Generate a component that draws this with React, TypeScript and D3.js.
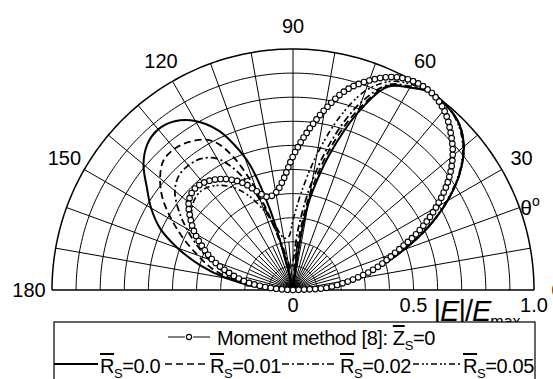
import React, { useRef, useEffect } from 'react';
import * as d3 from 'd3';

// polar pattern |E|/Emax vs theta (deg)
const momentMethod: [number, number][] = [
  [0, 0], [3, 0.12], [5, 0.16], [10, 0.255], [15, 0.36], [20, 0.45], [25, 0.575], [30, 0.685],
  [35, 0.785], [40, 0.865], [45, 0.925], [50, 0.975], [55, 1.0], [60, 1.0], [65, 0.975],
  [70, 0.925], [75, 0.86], [80, 0.76], [85, 0.655], [90, 0.555], [95, 0.46], [100, 0.41],
  [105, 0.4], [110, 0.435], [115, 0.49], [120, 0.53], [125, 0.56], [130, 0.58], [135, 0.585],
  [140, 0.565], [145, 0.52], [150, 0.47], [155, 0.41], [160, 0.35], [165, 0.275], [170, 0.2],
  [175, 0.09], [180, 0],
];

const rs000: [number, number][] = [
  [0, 0], [5, 0.14], [10, 0.26], [15, 0.37], [20, 0.49], [25, 0.62], [30, 0.74], [35, 0.845],
  [40, 0.925], [45, 0.975], [50, 0.995], [55, 1.0], [60, 0.97], [65, 0.93], [70, 0.78],
  [75, 0.58], [78, 0.45], [80, 0.36], [82, 0.2], [84, 0],
  [103, 0], [104, 0.12], [105, 0.25], [106, 0.35], [109, 0.55], [112, 0.65], [115, 0.73],
  [120, 0.81], [125, 0.855], [130, 0.87], [135, 0.855], [140, 0.81], [145, 0.74], [150, 0.68],
  [155, 0.61], [160, 0.51], [165, 0.4], [170, 0.28], [175, 0.14], [180, 0],
];

const rs001: [number, number][] = [
  [0, 0], [5, 0.14], [10, 0.26], [15, 0.37], [20, 0.49], [25, 0.62], [30, 0.74], [35, 0.845],
  [40, 0.925], [45, 0.975], [50, 0.995], [55, 1.0], [60, 0.972], [65, 0.935], [70, 0.8],
  [75, 0.62], [80, 0.4], [84, 0.2], [88, 0.06], [92, 0.03], [98, 0.03], [102, 0.1],
  [105, 0.2], [108, 0.34], [111, 0.48], [114, 0.6], [117, 0.68], [120, 0.72], [125, 0.75],
  [130, 0.765], [135, 0.76], [140, 0.72], [145, 0.66], [150, 0.58], [155, 0.5], [160, 0.42],
  [165, 0.35], [170, 0.25], [175, 0.13], [180, 0],
];

const rs002: [number, number][] = [
  [0, 0], [5, 0.14], [10, 0.26], [15, 0.37], [20, 0.49], [25, 0.62], [30, 0.74], [35, 0.845],
  [40, 0.925], [45, 0.975], [50, 0.995], [55, 1.0], [60, 0.975], [65, 0.94], [70, 0.83],
  [75, 0.66], [80, 0.46], [85, 0.26], [90, 0.12], [95, 0.09], [100, 0.12], [104, 0.2],
  [108, 0.32], [112, 0.46], [116, 0.56], [120, 0.63], [125, 0.665], [130, 0.675], [135, 0.67],
  [140, 0.64], [145, 0.58], [150, 0.51], [155, 0.44], [160, 0.37], [165, 0.3], [170, 0.22],
  [175, 0.11], [180, 0],
];

const rs005: [number, number][] = [
  [0, 0], [5, 0.14], [10, 0.26], [15, 0.37], [20, 0.49], [25, 0.62], [30, 0.735], [35, 0.84],
  [40, 0.92], [45, 0.97], [50, 0.995], [55, 1.0], [60, 0.985], [65, 0.955], [70, 0.88],
  [75, 0.74], [80, 0.57], [85, 0.41], [90, 0.29], [95, 0.22], [100, 0.22], [105, 0.27],
  [110, 0.35], [115, 0.43], [120, 0.49], [125, 0.53], [130, 0.555], [135, 0.56], [140, 0.545],
  [145, 0.51], [150, 0.46], [155, 0.4], [160, 0.34], [165, 0.27], [170, 0.2], [175, 0.1],
  [180, 0],
];

const angleLabels = [0, 30, 60, 90, 120, 150, 180];
const radiusLabels = [0, 0.5, 1.0];
const legendValues = ['0.0', '0.01', '0.02', '0.05'];
const legendDashes = ['none', '7,4', '7,3,2,3', '6,3,2,2,2,3'];

const FONT = "'Liberation Sans', Arial, sans-serif";

const App = () => {
  const ref = useRef<SVGSVGElement>(null);

  useEffect(() => {
    const svg = d3.select(ref.current);
    svg.selectAll('*').remove();

    const cx = 293, cy = 290, R = 241;
    const r = d3.scaleLinear().domain([0, 1]).range([0, R]);
    // theta measured from the right, counter-clockwise -> radial angle from 12 o'clock
    const a = d3.scaleLinear().domain([0, 180]).range([Math.PI / 2, -Math.PI / 2]);

    const g = svg.append('g').attr('transform', `translate(${cx},${cy})`);

    // grid circles
    d3.range(1, 11).map((i) => i / 10).forEach((v) => {
      const pts = d3.range(0, 181, 1).map((t) => [a(t), r(v)] as [number, number]);
      g.append('path')
        .attr('d', d3.lineRadial()(pts))
        .attr('fill', 'none')
        .attr('stroke', '#000')
        .attr('stroke-width', v === 1 ? 1.5 : 1);
    });

    // spokes
    d3.range(10, 180, 10).forEach((t) => {
      g.append('path')
        .attr('d', d3.lineRadial()([[a(t), 0], [a(t), r(1)]]))
        .attr('stroke', '#000').attr('stroke-width', 1);
    });
    d3.range(5, 180, 10).forEach((t) => {
      g.append('path')
        .attr('d', d3.lineRadial()([[a(t), 0], [a(t), r(0.2)]]))
        .attr('stroke', '#000').attr('stroke-width', 1);
    });
    // baseline
    g.append('path')
      .attr('d', d3.lineRadial()([[a(180), r(1)], [a(0), r(1)]]))
      .attr('stroke', '#000').attr('stroke-width', 1.5);

    // angle labels
    g.selectAll('text.ang').data(angleLabels).enter().append('text')
      .attr('class', 'ang')
      .attr('x', (d) => (r(1) + 23) * Math.sin(a(d)))
      .attr('y', (d) => -(r(1) + 23) * Math.cos(a(d)))
      .attr('text-anchor', 'middle')
      .attr('dominant-baseline', 'central')
      .attr('font-family', FONT).attr('font-size', 20)
      .text((d) => d);

    // radial labels
    g.selectAll('text.rad').data(radiusLabels).enter().append('text')
      .attr('class', 'rad')
      .attr('x', (d) => r(d))
      .attr('y', 22)
      .attr('text-anchor', 'middle')
      .attr('font-family', FONT).attr('font-size', 20)
      .text((d) => (d === 0 ? '0' : d.toFixed(1)));

    // |E|/Emax
    const eLab = g.append('text')
      .attr('x', r(0.583)).attr('y', 31)
      .attr('font-family', FONT).attr('font-size', 29).attr('letter-spacing', -1);
    eLab.append('tspan').text('|');
    eLab.append('tspan').attr('font-style', 'italic').text('E');
    eLab.append('tspan').text('|/');
    eLab.append('tspan').attr('font-style', 'italic').text('E');
    eLab.append('tspan').attr('font-size', 16).attr('dy', 6).attr('letter-spacing', 0).text('max');

    // theta label
    const th = g.append('text')
      .attr('x', r(1.05) * Math.sin(a(19)) - 12)
      .attr('y', -r(1.05) * Math.cos(a(19)) + 7)
      .attr('font-family', FONT).attr('font-size', 21);
    th.append('tspan').text('θ');
    th.append('tspan').attr('font-size', 14).attr('dy', -9).text('o');

    // curves
    const line = d3.lineRadial<[number, number]>()
      .angle((d) => a(d[0]))
      .radius((d) => r(d[1]))
      .curve(d3.curveCatmullRom.alpha(0.5));

    const series: { data: [number, number][]; dash: string; w: number }[] = [
      { data: rs005, dash: legendDashes[3], w: 1.6 },
      { data: rs002, dash: legendDashes[2], w: 1.8 },
      { data: rs001, dash: legendDashes[1], w: 1.8 },
      { data: rs000, dash: legendDashes[0], w: 2 },
    ];
    series.forEach((s) => {
      g.append('path')
        .attr('d', line(s.data))
        .attr('fill', 'none')
        .attr('stroke', '#000')
        .attr('stroke-width', s.w)
        .attr('stroke-dasharray', s.dash);
    });

    // moment method: hollow markers spaced along the curve
    const mm = g.append('path')
      .attr('d', line(momentMethod))
      .attr('fill', 'none')
      .attr('stroke', 'none');
    const node = mm.node() as SVGPathElement;
    const total = node.getTotalLength();
    const n = Math.round(total / 5.6);
    const marks = d3.range(0, n + 1).map((i) => node.getPointAtLength((i * total) / n));
    g.selectAll('circle.mm').data(marks).enter().append('circle')
      .attr('class', 'mm')
      .attr('cx', (p) => p.x).attr('cy', (p) => p.y)
      .attr('r', 2.8)
      .attr('fill', '#fff').attr('stroke', '#000').attr('stroke-width', 1.1);

    // legend
    const lg = svg.append('g');
    lg.append('rect')
      .attr('x', 54).attr('y', 322).attr('width', 481).attr('height', 80)
      .attr('fill', '#fff').attr('stroke', '#000').attr('stroke-width', 1.2);

    lg.append('line').attr('x1', 168).attr('x2', 210).attr('y1', 337).attr('y2', 337)
      .attr('stroke', '#000').attr('stroke-width', 1);
    lg.append('circle').attr('cx', 189).attr('cy', 337).attr('r', 3.2)
      .attr('fill', '#fff').attr('stroke', '#fff').attr('stroke-width', 2);
    lg.append('circle').attr('cx', 189).attr('cy', 337).attr('r', 2.6)
      .attr('fill', '#fff').attr('stroke', '#000').attr('stroke-width', 1.1);
    const t1 = lg.append('text').attr('x', 217).attr('y', 345)
      .attr('font-family', FONT).attr('font-size', 20).attr('letter-spacing', -0.4);
    t1.append('tspan').text('Moment method [8]: ');
    t1.append('tspan').attr('text-decoration', 'overline').text('Z');
    t1.append('tspan').attr('font-size', 13).attr('dy', 5).text('S');
    t1.append('tspan').attr('dy', -5).text('=0');

    const rowX = [[54, 98, 100], [165, 207, 210], [282, 337, 340], [413, 460, 463]];
    legendValues.forEach((v, i) => {
      const [x1, x2, tx] = rowX[i];
      lg.append('line').attr('x1', x1).attr('x2', x2).attr('y1', 364).attr('y2', 364)
        .attr('stroke', '#000').attr('stroke-width', i === 0 ? 2 : 1.6)
        .attr('stroke-dasharray', legendDashes[i]);
      const t = lg.append('text').attr('x', tx).attr('y', 373)
        .attr('font-family', FONT).attr('font-size', 20).attr('letter-spacing', -0.4);
      t.append('tspan').attr('text-decoration', 'overline').text('R');
      t.append('tspan').attr('font-size', 13).attr('dy', 5).text('S');
      t.append('tspan').attr('dy', -5).text('=' + v);
    });
  }, []);

  return (
    <svg ref={ref} width={553} height={379} style={{ position: 'absolute', left: 0, top: 0, background: '#fff' }} />
  );
};

export default App;
